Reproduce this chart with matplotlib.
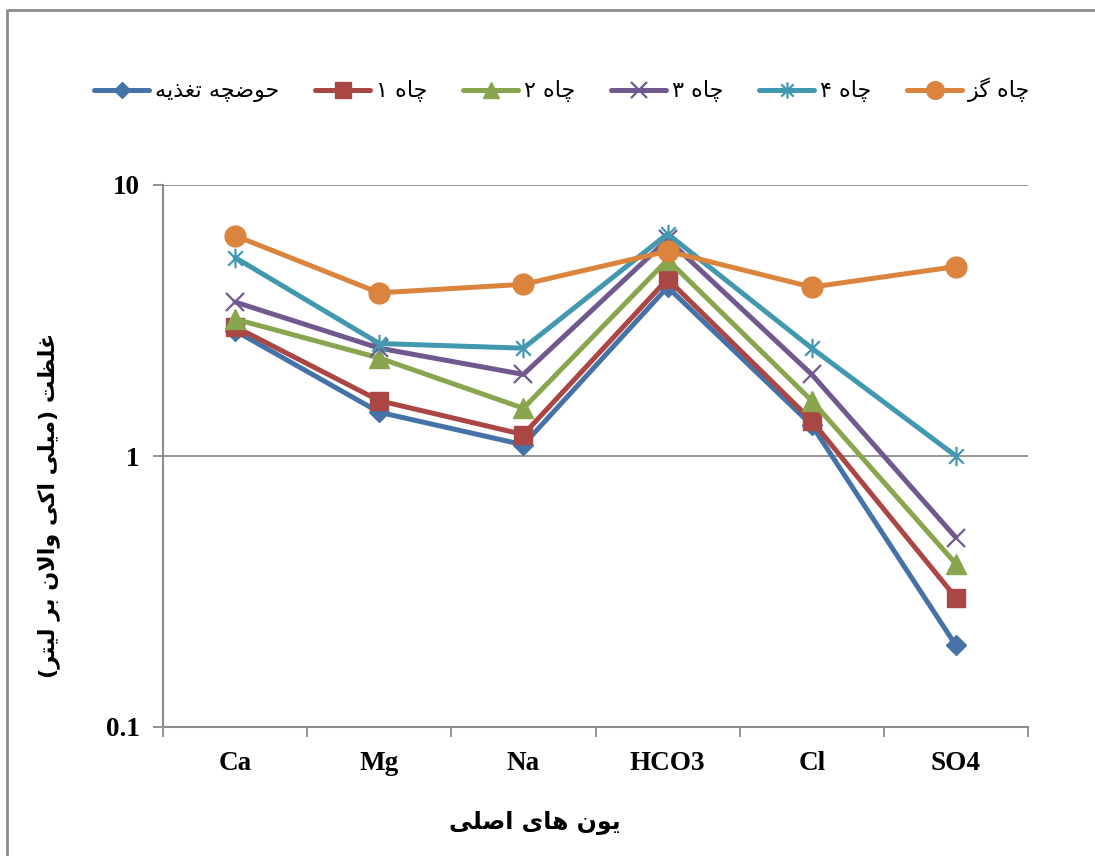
import matplotlib
matplotlib.use("Agg")
import matplotlib.pyplot as plt
from matplotlib.path import Path
from matplotlib.lines import Line2D
from matplotlib.ticker import FixedLocator, NullLocator

# ---- data ----
ions = ["Ca", "Mg", "Na", "HCO3", "Cl", "SO4"]
feed_pond = [2.9, 1.45, 1.1, 4.2, 1.3, 0.2]
well_1 = [3.0, 1.6, 1.2, 4.5, 1.35, 0.3]
well_2 = [3.2, 2.3, 1.5, 5.3, 1.6, 0.4]
well_3 = [3.7, 2.5, 2.0, 6.3, 2.0, 0.5]
well_4 = [5.4, 2.6, 2.5, 6.6, 2.5, 1.0]
well_gz = [6.5, 4.0, 4.3, 5.7, 4.2, 5.0]

names = ["حوضچه تغذیه", "چاه ۱", "چاه ۲", "چاه ۳", "چاه ۴", "چاه گز"]
y_ticks = [0.1, 1, 10]
y_tick_labels = ["0.1", "1", "10"]
x_title = "یون های اصلی"
y_title = "غلظت (میلی اکی والان بر لیتر)"

# ---- minimal arabic/persian shaping (matplotlib has no bidi) ----
# letter: (isolated, final, initial, medial)
FORMS = {
    "ا": ("\uFE8D", "\uFE8E", None, None),
    "ب": ("\uFE8F", "\uFE90", "\uFE91", "\uFE92"),
    "ت": ("\uFE95", "\uFE96", "\uFE97", "\uFE98"),
    "ح": ("\uFEA1", "\uFEA2", "\uFEA3", "\uFEA4"),
    "ذ": ("\uFEAB", "\uFEAC", None, None),
    "ر": ("\uFEAD", "\uFEAE", None, None),
    "ز": ("\uFEAF", "\uFEB0", None, None),
    "ص": ("\uFEB9", "\uFEBA", "\uFEBB", "\uFEBC"),
    "ض": ("\uFEBD", "\uFEBE", "\uFEBF", "\uFEC0"),
    "ظ": ("\uFEC5", "\uFEC6", "\uFEC7", "\uFEC8"),
    "غ": ("\uFECD", "\uFECE", "\uFECF", "\uFED0"),
    "ل": ("\uFEDD", "\uFEDE", "\uFEDF", "\uFEE0"),
    "م": ("\uFEE1", "\uFEE2", "\uFEE3", "\uFEE4"),
    "ن": ("\uFEE5", "\uFEE6", "\uFEE7", "\uFEE8"),
    "ه": ("\uFEE9", "\uFEEA", "\uFEEB", "\uFEEC"),
    "و": ("\uFEED", "\uFEEE", None, None),
    "چ": ("\uFB7A", "\uFB7B", "\uFB7C", "\uFB7D"),
    "ک": ("\uFB8E", "\uFB8F", "\uFB90", "\uFB91"),
    "گ": ("\uFB92", "\uFB93", "\uFB94", "\uFB95"),
    "ی": ("\uFBFC", "\uFBFD", "\uFBFE", "\uFBFF"),
}
MIRROR = {"(": ")", ")": "("}


def dual(c):
    return c in FORMS and FORMS[c][2] is not None


def shape(text):
    out = []
    i = 0
    n = len(text)
    while i < n:
        c = text[i]
        prev = text[i - 1] if i > 0 else ""
        if c not in FORMS:
            out.append(MIRROR.get(c, c))
            i += 1
            continue
        join_prev = dual(prev)
        if c == "ل" and i + 1 < n and text[i + 1] == "ا":
            out.append("\uFEFC" if join_prev else "\uFEFB")
            i += 2
            continue
        nxt = text[i + 1] if i + 1 < n else ""
        join_next = dual(c) and nxt in FORMS
        iso, fin, ini, med = FORMS[c]
        if join_prev and join_next:
            out.append(med)
        elif join_prev:
            out.append(fin)
        elif join_next:
            out.append(ini)
        else:
            out.append(iso)
        i += 1
    return "".join(reversed(out))


# Excel-like asterisk marker: vertical bar plus an X
star = Path([(0, -1), (0, 1), (-0.75, -0.75), (0.75, 0.75), (-0.75, 0.75), (0.75, -0.75)],
            [Path.MOVETO, Path.LINETO, Path.MOVETO, Path.LINETO, Path.MOVETO, Path.LINETO])

series = [feed_pond, well_1, well_2, well_3, well_4, well_gz]
colors = ["#4572A7", "#AA4643", "#89A54E", "#71588F", "#4198AF", "#DB843D"]
markers = ["D", "s", "^", "x", star, "o"]
msizes = [10, 13, 14, 13, 14, 15]

fig = plt.figure(figsize=(10.95, 8.56), dpi=100)
ax = fig.add_axes([163 / 1095, 1 - 727 / 856, (1028 - 163) / 1095, (727 - 185) / 856])

x = list(range(len(ions)))
for vals, col, mk, ms, nm in zip(series, colors, markers, msizes, names):
    hollow = mk in ("x",) or mk is star
    ax.plot(x, vals, color=col, lw=3.6, marker=mk, ms=ms,
            mec=col, mfc=col, mew=1.6 if hollow else 1, label=shape(nm),
            solid_joinstyle="round", solid_capstyle="round")

ax.set_yscale("log")
ax.set_ylim(0.1, 10)
ax.set_xlim(-0.5, len(ions) - 0.5)

gray = "#8C8C8C"
ax.yaxis.set_major_locator(FixedLocator(y_ticks))
ax.yaxis.set_minor_locator(NullLocator())
ax.set_yticklabels(y_tick_labels)
ax.set_xticks(x)
ax.set_xticklabels(ions)
ax.set_xticks([i - 0.5 for i in range(len(ions) + 1)], minor=True)
ax.tick_params(axis="x", which="major", length=0, pad=17)
ax.tick_params(axis="x", which="minor", length=7, width=1.3, color=gray, direction="out")
ax.tick_params(axis="y", which="major", length=7, width=1.3, color=gray, pad=10)
for lab in ax.get_xticklabels() + ax.get_yticklabels():
    lab.set_fontfamily("Liberation Serif")
    lab.set_fontweight("bold")
    lab.set_fontsize(19.5)

ax.grid(axis="y", which="major", color=gray, lw=1.3)
ax.set_axisbelow(True)
for s in ["top", "right"]:
    ax.spines[s].set_visible(False)
for s in ["left", "bottom"]:
    ax.spines[s].set_color(gray)
    ax.spines[s].set_linewidth(1.5)

fig.text(535 / 1095, 1 - 822 / 856, shape(x_title), ha="center", va="center",
         fontsize=17, fontweight="bold", family="DejaVu Sans")
fig.text(49 / 1095, 1 - 505 / 856, shape(y_title), ha="center", va="center",
         rotation=90, fontsize=16, fontweight="bold", family="DejaVu Sans")

leg = fig.legend(loc="center", bbox_to_anchor=(562 / 1095, 1 - 90 / 856), ncol=6,
                 frameon=False, handlelength=2.5, handletextpad=0.25,
                 columnspacing=1.6, markerscale=0.85,
                 prop={"family": "DejaVu Sans", "size": 16})

# outer chart border (top and left edges visible)
fig.add_artist(Line2D([7 / 1095, 7 / 1095, 1.0], [0.0, 1 - 10 / 856, 1 - 10 / 856],
                      transform=fig.transFigure, color=gray, lw=2))

fig.savefig("out.png", dpi=100)
